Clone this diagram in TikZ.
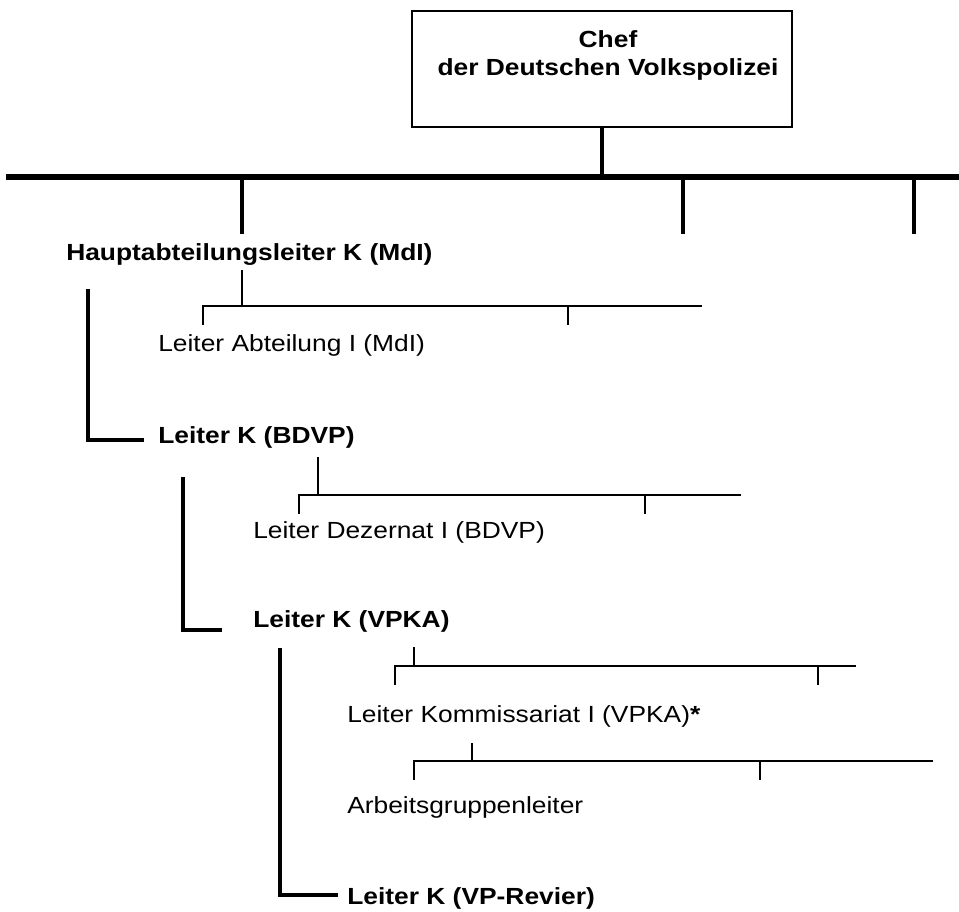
\documentclass[tikz,border=0pt]{standalone}
\usepackage{fontspec}
\setmainfont{Liberation Sans}[FakeStretch=1.13]

\begin{document}
\begin{tikzpicture}[x=0.75pt,y=-0.75pt,
	amt/.style={anchor=base west, inner sep=0pt, font=\fontsize{17.5}{21}\selectfont},
	leiter/.style={amt, font=\fontsize{17.5}{21}\selectfont\bfseries},
	unterstellt/.style={line width=3pt},
	querbalken/.style={line width=4.5pt},
	zweig/.style={line width=1.5pt}]
	\useasboundingbox (0,0) rectangle (959,912);

	% Chef oben
	\node[draw, line width=1.1pt, minimum width=285pt, minimum height=87pt, inner sep=0pt] (chef) at (602,69) {};
	\node[anchor=north, inner sep=0pt, align=center, font=\fontsize{17.5}{21}\selectfont\bfseries] (cheftext) at (608,30)
		{Chef\\der Deutschen Volkspolizei};
	\coordinate (balkenl) at (6,177);
	\coordinate (balkenr) at (959,177);
	\draw[querbalken] (balkenl) -- (balkenr);
	\draw[unterstellt] (chef.south) -- (chef.south |- balkenl);
	\foreach \x in {242,683,914}
		\draw[unterstellt] (\x,177) -- (\x,234);

	% Ebene MdI
	\node[leiter] (hal) at (66,261) {Hauptabteilungsleiter K (MdI)};
	\node[amt] (abt) at (158,352) {Leiter Abteilung I (MdI)};
	\draw[zweig] (242,270) -- (242,306);
	\draw[zweig] (203,325) -- (203,306) -- (702,306);
	\draw[zweig] (568,306) -- (568,325);

	% Ebene BDVP
	\node[leiter] (bdvp) at (158,443) {Leiter K (BDVP)};
	\draw[unterstellt] (88,289) -- (88,440) -- (144,440);
	\node[amt] (dez) at (253,538) {Leiter Dezernat I (BDVP)};
	\draw[zweig] (318,457) -- (318,495);
	\draw[zweig] (299,514) -- (299,495) -- (741,495);
	\draw[zweig] (645,495) -- (645,514);

	% Ebene VPKA
	\node[leiter] (vpka) at (253,627) {Leiter K (VPKA)};
	\draw[unterstellt] (183,477) -- (183,630) -- (222,630);
	\node[amt] (kom) at (347,722) {Leiter Kommissariat I (VPKA)\textbf{*}};
	\draw[zweig] (414,647) -- (414,666);
	\draw[zweig] (395,685) -- (395,666) -- (856,666);
	\draw[zweig] (818,666) -- (818,685);
	\node[amt] (agl) at (347,813) {Arbeitsgruppenleiter};
	\draw[zweig] (472,743) -- (472,761);
	\draw[zweig] (414,780) -- (414,761) -- (933,761);
	\draw[zweig] (760,761) -- (760,780);

	% Ebene VP-Revier
	\node[leiter] (revier) at (347,904) {Leiter K (VP-Revier)};
	\draw[unterstellt] (280,648) -- (280,895) -- (338,895);
\end{tikzpicture}
\end{document}
